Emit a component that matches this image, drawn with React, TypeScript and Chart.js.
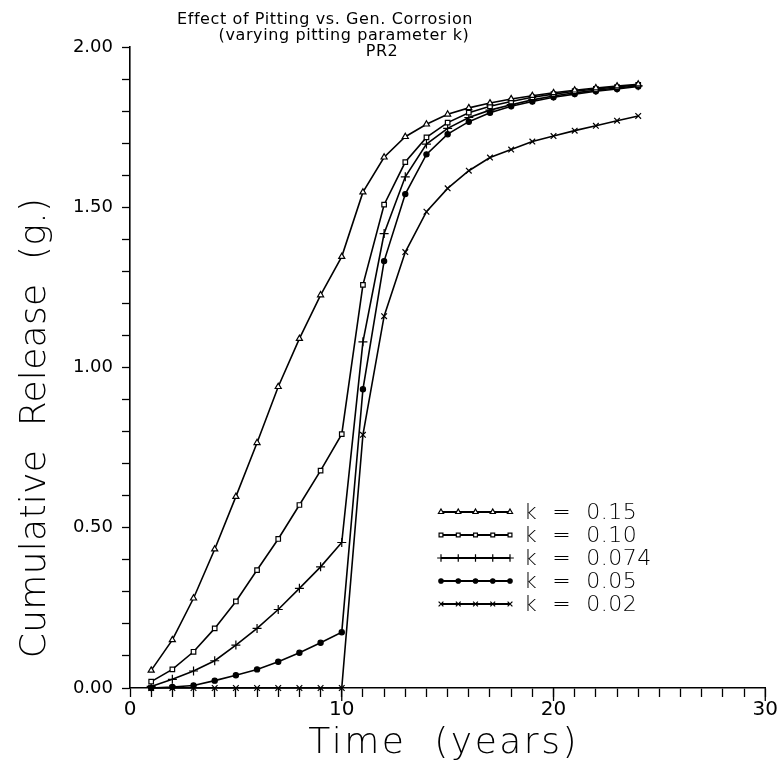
import React, { useEffect, useRef } from "react";
import { Chart, registerables } from "chart.js";
import { drawPoint } from "chart.js/helpers";

Chart.register(...registerables);

const years = [1, 2, 3, 4, 5, 6, 7, 8, 9, 10, 11, 12, 13, 14, 15, 16, 17, 18, 19, 20, 21, 22, 23, 24];

const k015 = [0.055, 0.15, 0.28, 0.433, 0.597, 0.765, 0.94, 1.09, 1.226, 1.346, 1.547, 1.656, 1.72, 1.759, 1.79, 1.81, 1.825, 1.838, 1.848, 1.857, 1.865, 1.872, 1.878, 1.884];
const k010 = [0.02, 0.058, 0.113, 0.186, 0.27, 0.368, 0.465, 0.571, 0.678, 0.792, 1.258, 1.508, 1.641, 1.718, 1.764, 1.795, 1.815, 1.83, 1.843, 1.853, 1.862, 1.869, 1.875, 1.882];
const k0074 = [0.005, 0.027, 0.053, 0.085, 0.134, 0.186, 0.245, 0.311, 0.378, 0.454, 1.08, 1.418, 1.595, 1.697, 1.746, 1.78, 1.803, 1.82, 1.835, 1.847, 1.857, 1.865, 1.872, 1.879];
const k005 = [0.0, 0.003, 0.008, 0.023, 0.04, 0.058, 0.082, 0.11, 0.141, 0.174, 0.932, 1.332, 1.541, 1.665, 1.728, 1.767, 1.795, 1.815, 1.83, 1.843, 1.853, 1.862, 1.869, 1.877];
const k002 = [0, 0, 0, 0, 0, 0, 0, 0, 0, 0, 0.79, 1.16, 1.36, 1.486, 1.559, 1.614, 1.655, 1.68, 1.705, 1.722, 1.739, 1.754, 1.77, 1.785];

const seriesLabels = ["k  =  0.15", "k  =  0.10", "k  =  0.074", "k  =  0.05", "k  =  0.02"];
const seriesValues = [k015, k010, k0074, k005, k002];
const pointStyles = ["triangle", "rect", "cross", "circle", "crossRot"];
const pointRadii = [3.5, 3.2, 4.5, 2.6, 4];
const pointFills = ["#ffffff", "#ffffff", "#000000", "#000000", "#000000"];

const titleLines = ["Effect of Pitting vs. Gen. Corrosion", "(varying pitting parameter k)", "PR2"];
const xTitle = "Time  (years)";
const yTitle = "Cumulative  Release  (g.)";

const FONT = "'DejaVu Sans', sans-serif";

const textPlugin = {
  id: "textPlugin",
  afterDraw(chart: any) {
    const ctx = chart.ctx;
    const area = chart.chartArea;
    const xs = chart.scales.x;
    ctx.save();
    // longer major ticks on the x axis
    ctx.strokeStyle = "#000";
    ctx.lineWidth = 1.3;
    [10, 20, 30].forEach((v) => {
      const px = xs.getPixelForValue(v);
      ctx.beginPath();
      ctx.moveTo(px, area.bottom);
      ctx.lineTo(px, area.bottom + 13);
      ctx.stroke();
    });

    ctx.fillStyle = "#000";
    ctx.textBaseline = "middle";
    ctx.textAlign = "center";
    // main title
    ctx.font = `normal 16px ${FONT}`;
    (ctx as any).letterSpacing = "0.6px";
    ctx.fillText(titleLines[0], 325, 20);
    ctx.fillText(titleLines[1], 344, 36);
    ctx.fillText(titleLines[2], 382, 52);
    // x title
    ctx.font = `300 36px ${FONT}`;
    (ctx as any).letterSpacing = "2.5px";
    ctx.fillText(xTitle, (area.left + area.right) / 2 - 4, 744);
    // y title
    (ctx as any).letterSpacing = "0.3px";
    ctx.save();
    ctx.translate(36, 428);
    ctx.rotate(-Math.PI / 2);
    ctx.fillText(yTitle, 0, 0);
    ctx.restore();
    (ctx as any).letterSpacing = "0px";

    // legend
    const x0 = 441;
    const x1 = 510;
    const rowY0 = 512;
    const rowStep = 23;
    chart.data.datasets.forEach((ds: any, i: number) => {
      const y = rowY0 + i * rowStep;
      ctx.strokeStyle = "#000";
      ctx.lineWidth = 1.8;
      ctx.beginPath();
      ctx.moveTo(x0, y);
      ctx.lineTo(x1, y);
      ctx.stroke();
      for (let j = 0; j < 5; j++) {
        const px = x0 + ((x1 - x0) * j) / 4;
        ctx.fillStyle = ds.pointBackgroundColor;
        ctx.strokeStyle = "#000";
        ctx.lineWidth = 1.2;
        drawPoint(ctx, { pointStyle: ds.pointStyle, radius: ds.pointRadius * 0.85, rotation: 0, borderWidth: 1.2 }, px, y);
      }
      ctx.fillStyle = "#000";
      ctx.textAlign = "left";
      ctx.font = `300 22px ${FONT}`;
      (ctx as any).letterSpacing = "0.5px";
      ctx.fillText(ds.label, 524, y + 1);
      (ctx as any).letterSpacing = "0px";
    });
    ctx.restore();
  },
};

export default function App() {
  const ref = useRef<HTMLCanvasElement>(null);
  useEffect(() => {
    if (!ref.current) return;
    const datasets = seriesValues.map((vals, i) => ({
      label: seriesLabels[i],
      data: years.map((x, j) => ({ x, y: vals[j] })),
      borderColor: "#000",
      borderWidth: 1.6,
      pointStyle: pointStyles[i],
      pointRadius: pointRadii[i],
      pointBackgroundColor: pointFills[i],
      pointBorderColor: "#000",
      pointBorderWidth: 1.2,
      tension: 0,
      clip: false as any,
    }));
    const chart = new Chart(ref.current, {
      type: "line",
      data: { datasets },
      options: {
        animation: false,
        responsive: false,
        devicePixelRatio: 1,
        layout: { padding: { top: 47, right: 11, left: 0, bottom: 0 } },
        plugins: { legend: { display: false }, title: { display: false }, tooltip: { enabled: false } },
        scales: {
          x: {
            type: "linear",
            min: 0,
            max: 30,
            afterFit: (s: any) => {
              s.height = 82;
            },
            border: { display: true, color: "#000", width: 1.6 },
            grid: { drawOnChartArea: false, drawTicks: true, tickLength: 9, tickColor: "#000", tickWidth: 1.3 },
            ticks: {
              stepSize: 1,
              autoSkip: false,
              maxRotation: 0,
              padding: 1,
              color: "#000",
              font: { family: FONT, size: 20, weight: "normal" as any },
              callback: (v: any) => (Number(v) % 10 === 0 ? String(v) : ""),
            },
          },
          y: {
            type: "linear",
            min: 0,
            max: 2,
            afterFit: (s: any) => {
              s.width = 130;
            },
            border: { display: true, color: "#000", width: 1.6 },
            grid: { drawOnChartArea: false, drawTicks: true, tickLength: 8, tickColor: "#000", tickWidth: 1.3 },
            ticks: {
              stepSize: 0.1,
              autoSkip: false,
              padding: 9,
              color: "#000",
              font: { family: FONT, size: 18, weight: "normal" as any },
              callback: (v: any) => {
                const n = Math.round(Number(v) * 10);
                return n % 5 === 0 ? (n / 10).toFixed(2) : "";
              },
            },
          },
        },
      },
      plugins: [textPlugin],
    });
    return () => chart.destroy();
  }, []);
  return (
    <div style={{ position: "absolute", left: 0, top: 0, width: 779, height: 770, background: "#fff" }}>
      <canvas ref={ref} width={779} height={770} />
    </div>
  );
}
